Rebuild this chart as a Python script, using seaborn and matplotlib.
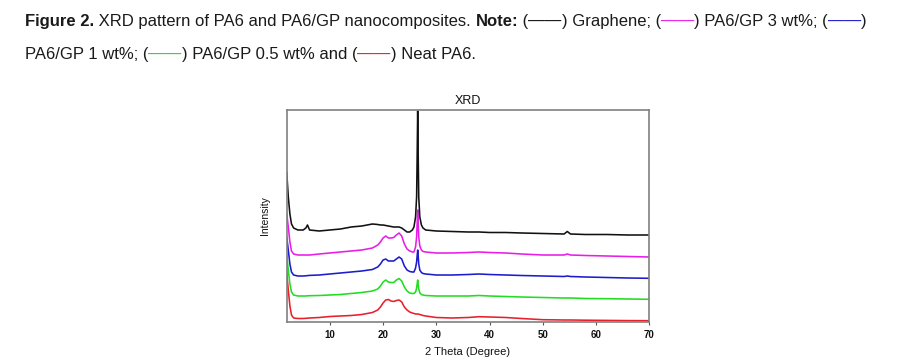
import matplotlib
matplotlib.use("Agg")
import matplotlib.pyplot as plt
import seaborn as sns
import pandas as pd
from matplotlib import font_manager

# ---------------- data ----------------
theta = [1.9, 2.2, 2.5, 2.8, 3.2, 4, 5, 5.5, 5.8, 6.2, 8, 10, 12, 14, 16, 18, 19, 19.5,
         20, 20.5, 21, 21.5, 22, 22.5, 23, 23.5, 24, 24.5, 25, 25.5, 25.8, 26.1, 26.3,
         26.4, 26.5, 26.6, 26.7, 26.9, 27.2, 27.5, 28, 30, 33, 36, 38, 40, 43, 46, 50,
         54, 54.6, 55.2, 58, 62, 66, 70]

graphene = [150, 125, 108, 98, 94, 92, 92, 94, 97, 92, 91, 92, 93, 95, 96, 98, 97.5, 97,
            97, 96.5, 96, 95.5, 95, 95, 95, 94, 92, 90, 90, 92, 95, 105, 125,
            165, 211, 165, 125, 105, 97, 94, 92, 91, 90.5, 90, 90, 89.5, 89.5, 89, 88.5,
            88, 90.5, 88, 87.5, 87.5, 87, 87]

gp3 = [109, 95, 80, 71, 68, 67, 67, 67, 67, 67, 68, 69, 70, 71, 72, 74, 77, 80,
       84, 86, 84, 84, 84.5, 87, 89, 86, 78, 73, 71, 70, 70, 75, 85,
       98, 112, 98, 85, 76, 72, 70.5, 70, 69, 69, 69.5, 70, 69.5, 69, 68, 67,
       67, 68, 67, 66.5, 66, 65.5, 65]

gp1 = [85, 72, 58, 50, 47, 46, 46, 46.2, 46.4, 46.6, 47, 48, 49, 50, 51, 52.5, 55, 58,
       62, 63, 61, 61, 61, 63, 65, 63, 56, 52, 50.5, 50, 50, 54, 60,
       66, 72, 66, 58, 52, 49.5, 48.5, 48, 47, 47, 47.5, 48, 47.5, 47, 46.5, 46,
       45.5, 46, 45.5, 45, 44.5, 44, 43.7]

gp05 = [67, 52, 38, 30, 27, 26, 26, 26, 26.2, 26.3, 26.5, 27, 27.5, 28.5, 29.5, 31, 33, 36,
        40, 42, 40, 39.5, 39.5, 42, 43.5, 41, 35, 31, 29, 28.5, 28.5, 30, 34,
        38, 42, 37, 33, 29, 27.5, 27, 26.5, 26, 26, 26, 26.5, 26, 25.5, 25, 24.5,
        24, 24, 24, 23.5, 23.3, 23, 22.7]

neat = [49, 32, 16, 7, 4, 3.5, 3.5, 3.7, 3.8, 4, 4.5, 5.5, 6, 6.5, 7.5, 9.5, 12, 15,
        19, 22, 22.5, 21, 20.5, 21.5, 22, 20, 15, 12, 10, 9, 8.5, 8, 8,
        8, 8, 8, 7.8, 7.5, 7, 6.5, 6, 4.5, 4, 4.5, 5.3, 5, 4.5, 3.5, 2.3,
        2, 2, 2, 1.8, 1.6, 1.4, 1.3]

series_names = ["Graphene", "PA6/GP 3 wt%", "PA6/GP 1 wt%", "PA6/GP 0.5 wt%", "Neat PA6"]
series_values = [graphene, gp3, gp1, gp05, neat]
series_colors = ["#111111", "#e81ee8", "#1c1ccc", "#22dd22", "#e8202c"]
x_ticks = [10, 20, 30, 40, 50, 60, 70]

# ---------------- figure ----------------
sns.set_theme(style="white")
plt.rcParams["font.family"] = ["Liberation Sans", "DejaVu Sans"]

W, H = 909, 362
fig = plt.figure(figsize=(W / 100, H / 100), dpi=100)
fig.patch.set_facecolor("white")

ax = fig.add_axes([286.7 / W, 1 - 322 / H, (649.3 - 286.7) / W, (322 - 110) / H])

rows = []
for name, vals in zip(series_names, series_values):
    for t, v in zip(theta, vals):
        rows.append({"theta": t, "intensity": v, "sample": name})
df = pd.DataFrame(rows)

# draw Neat first so graphene ends on top
order = series_names[::-1]
sns.lineplot(data=df, x="theta", y="intensity", hue="sample", hue_order=order,
             palette=dict(zip(series_names, series_colors)), estimator=None,
             sort=False, legend=False, linewidth=1.15, ax=ax)

ax.set_xlim(1.9, 70)
ax.set_ylim(0, 212)
ax.set_xticks(x_ticks)
ax.set_xticklabels([str(t) for t in x_ticks])
ax.set_yticks([])
for s in ax.spines.values():
    s.set_visible(True)
    s.set_color("#808080")
    s.set_linewidth(1.2)
ax.tick_params(axis="x", bottom=True, length=2.5, width=0.8, color="#555555",
               labelsize=7, pad=3, labelcolor="#111111", direction="out")
for lbl in ax.get_xticklabels():
    lbl.set_fontweight("semibold")
ax.set_title("XRD", fontsize=9, pad=4, color="#111111")
ax.set_xlabel("2 Theta (Degree)", fontsize=8, labelpad=5, color="#111111")
ax.set_ylabel("Intensity", fontsize=7.5, labelpad=12, color="#111111")

# ---------------- caption ----------------
avail = {f.name for f in font_manager.fontManager.ttflist}
cap_family = ["Liberation Sans Narrow"] if "Liberation Sans Narrow" in avail else ["Liberation Sans"]
cap_family = cap_family + ["DejaVu Sans"]

txtc = "#1a1a1a"
line1 = [("Figure 2.", txtc, "bold"),
         (" XRD pattern of PA6 and PA6/GP nanocomposites. ", txtc, "normal"),
         ("Note:", txtc, "bold"),
         (" (", txtc, "normal"), ("——", series_colors[0], "normal"),
         (") Graphene; (", txtc, "normal"), ("——", series_colors[1], "normal"),
         (") PA6/GP 3 wt%; (", txtc, "normal"), ("——", series_colors[2], "normal"),
         (")", txtc, "normal")]
line2 = [("PA6/GP 1 wt%; (", txtc, "normal"), ("——", series_colors[3], "normal"),
         (") PA6/GP 0.5 wt% and (", txtc, "normal"), ("——", series_colors[4], "normal"),
         (") Neat PA6.", txtc, "normal")]

renderer = fig.canvas.get_renderer()


def width_of(s, size, weight):
    t = fig.text(0, 0, "|" + s + "|", fontsize=size, fontweight=weight, family=cap_family)
    w = t.get_window_extent(renderer).width
    t.remove()
    t2 = fig.text(0, 0, "||", fontsize=size, fontweight=weight, family=cap_family)
    w2 = t2.get_window_extent(renderer).width
    t2.remove()
    return w - w2


def line_width(pieces, size):
    return sum(width_of(s, size, wt) for s, c, wt in pieces)


size = 11.0
w1 = line_width(line1, size)
size = size * 840.0 / w1


def place(pieces, x0, ybase, size):
    x = x0
    for s, c, wt in pieces:
        fig.text(x / W, 1 - ybase / H, s, fontsize=size, fontweight=wt, color=c,
                 family=cap_family, va="baseline", ha="left")
        x += width_of(s, size, wt)


place(line1, 25, 26, size)
place(line2, 25, 59, size)

fig.savefig("out.png", dpi=100, facecolor="white")
